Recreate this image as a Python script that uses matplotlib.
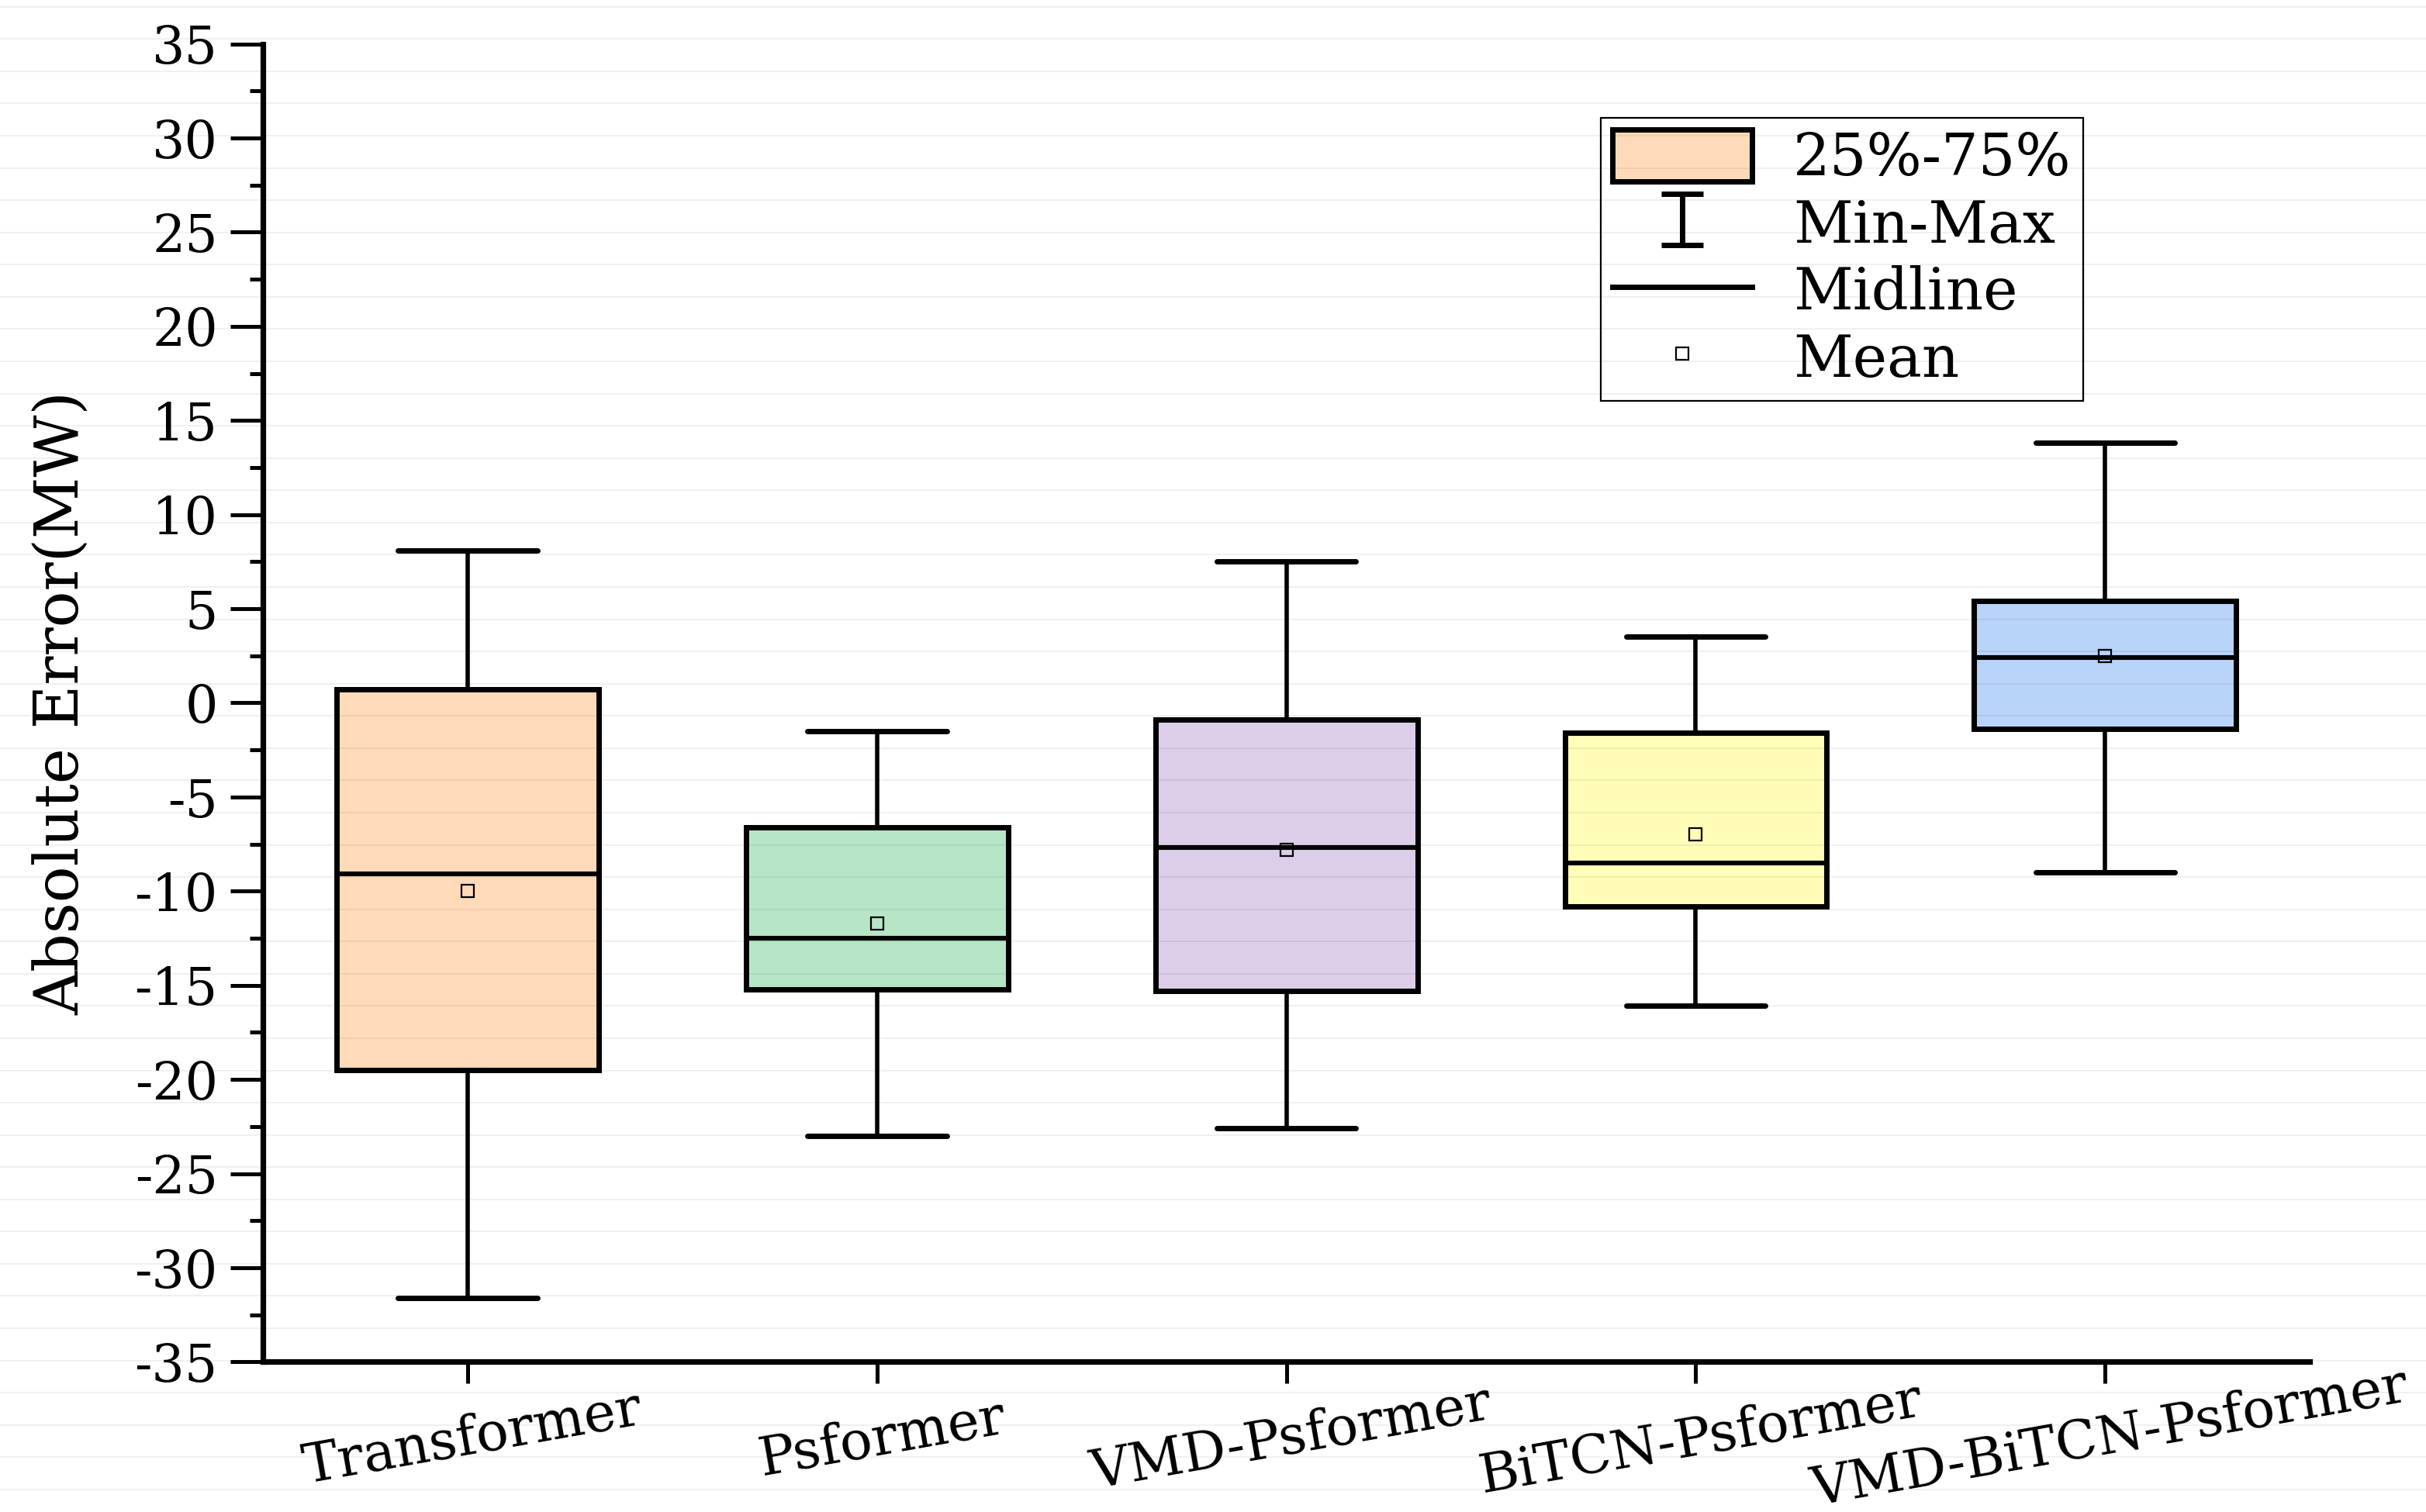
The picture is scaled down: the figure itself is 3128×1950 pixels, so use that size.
import matplotlib
matplotlib.use("Agg")
import matplotlib.pyplot as plt
from matplotlib.lines import Line2D
from matplotlib.patches import Patch
from matplotlib.path import Path

plt.rcParams['font.family'] = ['DejaVu Serif', 'DejaVu Sans']
plt.rcParams['axes.unicode_minus'] = False

# values
models = ['Transformer', 'Psformer', 'VMD-Psformer', 'BiTCN-Psformer', 'VMD-BiTCN-Psformer']
mins = [-31.6, -23.0, -22.6, -16.1, -9.0]
q1s = [-19.5, -15.2, -15.3, -10.8, -1.4]
medians = [-9.1, -12.5, -7.7, -8.5, 2.4]
means = [-10.0, -11.7, -7.8, -7.0, 2.5]
q3s = [0.7, -6.6, -0.9, -1.6, 5.4]
maxs = [8.1, -1.5, 7.5, 3.5, 13.8]
colors = ['#FEDAB8', '#B7E6C7', '#DCCDE8', '#FFFDB8', '#B8D4F8']

stats = []
for name, lo, a, m, mu, b, hi in zip(models, mins, q1s, medians, means, q3s, maxs):
    stats.append(dict(label=name, whislo=lo, q1=a, med=m, mean=mu, q3=b, whishi=hi, fliers=[]))

fig = plt.figure(figsize=(15.64, 9.75), dpi=200)
ax = fig.add_axes([0.1084, 0.0993, 0.8437, 0.8717])

bp = ax.bxp(stats, positions=range(1, 6), widths=0.64, capwidths=0.34,
            patch_artist=True, showmeans=True, showfliers=False,
            boxprops=dict(edgecolor='black', linewidth=2.5),
            whiskerprops=dict(color='black', linewidth=2.0),
            capprops=dict(color='black', linewidth=2.5, solid_capstyle='round'),
            medianprops=dict(color='black', linewidth=2.2),
            meanprops=dict(marker='s', markersize=6, markerfacecolor='none',
                           markeredgecolor='black', markeredgewidth=0.8))
for patch, c in zip(bp['boxes'], colors):
    patch.set_facecolor(c)

ax.set_xlim(0.5, 5.5)
ax.set_ylim(-35, 35)
ax.set_yticks(range(-35, 36, 5))
ax.set_yticks([v + 2.5 for v in range(-35, 35, 5)], minor=True)
ax.set_xticks(range(1, 6))
ax.set_xticklabels(models, rotation=10, ha='center', rotation_mode='anchor', fontsize=25)
ax.tick_params(axis='y', which='major', direction='out', length=15, width=1.8, labelsize=24, pad=6)
ax.tick_params(axis='y', which='minor', direction='out', length=6, width=1.8)
ax.tick_params(axis='x', which='major', direction='out', length=10, width=1.8, pad=14)

for s in ['top', 'right']:
    ax.spines[s].set_visible(False)
for s in ['left', 'bottom']:
    ax.spines[s].set_linewidth(2.6)

ax.set_ylabel('Absolute Error(MW)', fontsize=28, labelpad=20)

# legend
ibeam = Path([(-0.4, 0.5), (0.4, 0.5), (0, 0.5), (0, -0.5), (-0.4, -0.5), (0.4, -0.5)],
             [Path.MOVETO, Path.LINETO, Path.MOVETO, Path.LINETO, Path.MOVETO, Path.LINETO])
handles = [
    Patch(facecolor=colors[0], edgecolor='black', linewidth=2.5),
    Line2D([], [], linestyle='none', marker=ibeam, markersize=24, markeredgecolor='black',
           markeredgewidth=2.5),
    Line2D([], [], color='black', linewidth=2.5),
    Line2D([], [], linestyle='none', marker='s', markersize=6, markerfacecolor='none',
           markeredgecolor='black', markeredgewidth=0.8),
]
labels = ['25%-75%', 'Min-Max', 'Midline', 'Mean']
leg = fig.legend(handles, labels, loc='upper left', bbox_to_anchor=(0.660, 0.922),
                 fontsize=27, frameon=True, fancybox=False, framealpha=1,
                 handlelength=2.4, handleheight=1.0, handletextpad=0.7,
                 labelspacing=0.15, borderpad=0.2, borderaxespad=0)
leg.get_frame().set_edgecolor('black')
leg.get_frame().set_linewidth(0.8)

# faint ruled lines across the whole page
H = 1950.0
y = 8.7
while y < H:
    fig.add_artist(Line2D([0, 1], [1 - y / H, 1 - y / H], transform=fig.transFigure,
                          color='black', alpha=0.07, linewidth=0.6, zorder=10))
    y += 41.57

fig.savefig('out.png', dpi=200)
